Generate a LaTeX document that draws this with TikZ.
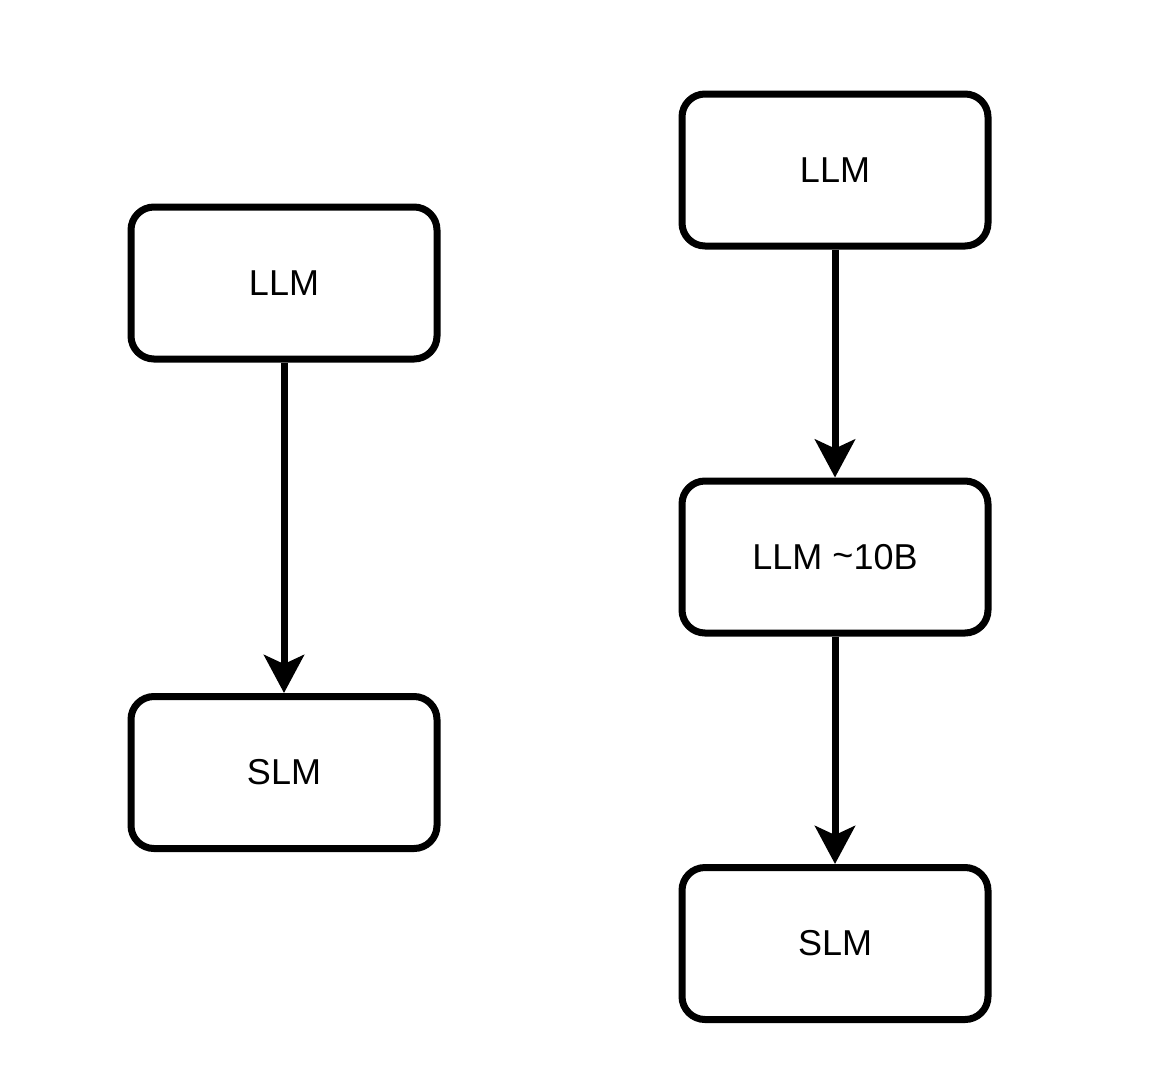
\documentclass[tikz,border=0pt]{standalone}
\usepackage{fontspec}
\setmainfont{Liberation Sans}
\usetikzlibrary{arrows.meta}
\begin{document}
\begin{tikzpicture}[x=1pt,y=-1pt,
  box/.style={draw=black,line width=7pt,rounded corners=23pt,fill=white,
    minimum width=306pt,minimum height=152pt,inner sep=0pt,
    font=\fontsize{36}{40}\selectfont},
  conn/.style={line width=7pt,-{Stealth[length=38pt,width=40pt,inset=9pt]}}]
\useasboundingbox[fill=white] (0,0) rectangle (1158,1090);
\node[box] (l1) at (284,283) {LLM};
\node[box] (l2) at (284,772.5) {SLM};
\node[box] (r1) at (835,170) {LLM};
\node[box] (r2) at (835,557) {LLM \raisebox{0.1ex}{\char`\~}10B};
\node[box] (r3) at (835,943.5) {SLM};
\draw[conn] (l1) -- (l2);
\draw[conn] (r1) -- (r2);
\draw[conn] (r2) -- (r3);
\end{tikzpicture}
\end{document}
